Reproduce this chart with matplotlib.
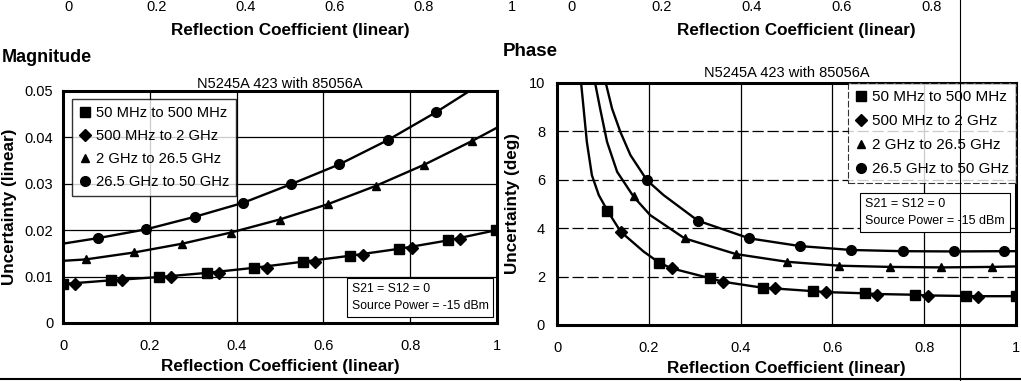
import matplotlib
matplotlib.use("Agg")
import matplotlib.pyplot as plt
from matplotlib.lines import Line2D

plt.rcParams['font.family'] = ['Liberation Sans', 'DejaVu Sans']

series_names = ['50 MHz to 500 MHz', '500 MHz to 2 GHz', '2 GHz to 26.5 GHz', '26.5 GHz to 50 GHz']
series_markers = ['s', 'D', '^', 'o']
x_ticks = [0, 0.2, 0.4, 0.6, 0.8, 1]
x_tick_labels = ['0', '0.2', '0.4', '0.6', '0.8', '1']

# magnitude (linear) - markers
mag_sq_x = [0.0, 0.111, 0.221, 0.331, 0.441, 0.552, 0.662, 0.775, 0.887, 0.998]
mag_sq_y = [0.0084, 0.0092, 0.0099, 0.0108, 0.0119, 0.0132, 0.0145, 0.0160, 0.0178, 0.0200]
mag_di_x = [0.027, 0.137, 0.248, 0.359, 0.469, 0.581, 0.692, 0.805, 0.915]
mag_di_y = [0.0085, 0.0092, 0.0099, 0.0108, 0.0119, 0.0132, 0.0147, 0.0162, 0.0182]
mag_tr_x = [0.052, 0.164, 0.275, 0.387, 0.499, 0.610, 0.722, 0.832, 0.942]
mag_tr_y = [0.0137, 0.0152, 0.0171, 0.0195, 0.0223, 0.0256, 0.0296, 0.0341, 0.0392]
mag_ci_x = [0.081, 0.192, 0.304, 0.415, 0.525, 0.637, 0.748, 0.859]
mag_ci_y = [0.0183, 0.0202, 0.0229, 0.0259, 0.0299, 0.0342, 0.0394, 0.0454]
# curve ends (no marker)
mag_tr_line_x = [0.0] + mag_tr_x + [1.0]
mag_tr_line_y = [0.0134] + mag_tr_y + [0.0421]
mag_ci_line_x = [0.0] + mag_ci_x + [0.95]
mag_ci_line_y = [0.0171] + mag_ci_y + [0.0508]
mag_yticks = [0, 0.01, 0.02, 0.03, 0.04, 0.05]
mag_ytick_labels = ['0', '0.01', '0.02', '0.03', '0.04', '0.05']

# phase (deg)
ph_sq_x = [0.110, 0.223, 0.334, 0.448, 0.557, 0.670, 0.780, 0.891, 1.0]
ph_sq_y = [4.72, 2.57, 1.93, 1.54, 1.40, 1.31, 1.25, 1.20, 1.20]
ph_di_x = [0.139, 0.250, 0.361, 0.474, 0.586, 0.697, 0.809, 0.918]
ph_di_y = [3.85, 2.34, 1.79, 1.51, 1.35, 1.24, 1.21, 1.17]
ph_tr_x = [0.167, 0.278, 0.390, 0.502, 0.615, 0.726, 0.837, 0.947]
ph_tr_y = [5.32, 3.58, 2.93, 2.61, 2.45, 2.38, 2.38, 2.38]
ph_ci_x = [0.196, 0.307, 0.419, 0.530, 0.641, 0.753, 0.864, 0.974]
ph_ci_y = [5.98, 4.31, 3.58, 3.26, 3.10, 3.04, 3.04, 3.07]
ph_low_line_x = [0.052, 0.058, 0.065, 0.076, 0.091, 0.110, 0.139, 0.189, 0.223, 0.250, 0.334, 0.361,
                 0.448, 0.474, 0.557, 0.586, 0.670, 0.697, 0.780, 0.809, 0.891, 0.918, 1.0]
ph_low_line_y = [10.1, 8.94, 7.57, 6.19, 5.37, 4.72, 3.85, 3.03, 2.57, 2.34, 1.93, 1.79,
                 1.54, 1.51, 1.40, 1.36, 1.31, 1.28, 1.25, 1.22, 1.20, 1.19, 1.19]
ph_tr_line_x = [0.082, 0.094, 0.109, 0.131, 0.167, 0.203, 0.278, 0.390, 0.502, 0.615, 0.726, 0.837, 0.947, 1.0]
ph_tr_line_y = [10.1, 8.94, 7.57, 6.33, 5.30, 4.54, 3.58, 2.93, 2.61, 2.45, 2.40, 2.38, 2.40, 2.42]
ph_ci_line_x = [0.105, 0.120, 0.138, 0.160, 0.196, 0.232, 0.307, 0.419, 0.530, 0.641, 0.753, 0.864, 0.974, 1.0]
ph_ci_line_y = [10.1, 8.94, 7.98, 7.02, 5.98, 5.37, 4.31, 3.58, 3.26, 3.10, 3.05, 3.04, 3.05, 3.05]
ph_yticks = [0, 2, 4, 6, 8, 10]
ph_ytick_labels = ['0', '2', '4', '6', '8', '10']

fig = plt.figure(figsize=(10.21, 3.81), dpi=100)

# cropped bottom of the chart above
for pos, ticks in [([68/1021, 0.999, 444/1021, 0.001], x_ticks),
                   ([571/1021, 0.999, 451/1021, 0.001], x_ticks[:-1])]:
    axt = fig.add_axes(pos)
    axt.set_xlim(0, 1)
    axt.set_xticks(ticks)
    axt.set_xticklabels(x_tick_labels[:len(ticks)], fontsize=10.5)
    axt.set_yticks([])
    axt.tick_params(length=0, pad=0)
    for s in axt.spines.values():
        s.set_visible(False)
    axt.patch.set_visible(False)
    axt.set_xlabel('Reflection Coefficient (linear)', fontsize=12.3, fontweight='bold', labelpad=6)


def style_axes(ax, yticks, ylabels, ylabel, hgrid_dash, ypad, title_pad):
    ax.set_xlim(0, 1)
    ax.set_xticks(x_ticks)
    ax.set_xticklabels(x_tick_labels, fontsize=10.5)
    ax.set_yticks(yticks)
    ax.set_yticklabels(ylabels, fontsize=10.5)
    ax.set_ylim(yticks[0], yticks[-1])
    ax.tick_params(length=0)
    ax.tick_params(axis='x', pad=11.5)
    ax.tick_params(axis='y', pad=ypad)
    for x in x_ticks[1:-1]:
        ax.axvline(x, color='black', lw=0.9, zorder=1)
    for y in yticks[1:-1]:
        ax.axhline(y, color='black', lw=0.9, zorder=1, linestyle=hgrid_dash)
    for s in ax.spines.values():
        s.set_linewidth(2.2)
    ax.set_xlabel('Reflection Coefficient (linear)', fontsize=12.3, fontweight='bold', labelpad=4)
    ax.set_ylabel(ylabel, fontsize=12.3, fontweight='bold')
    ax.set_title('N5245A 423 with 85056A', fontsize=10.5, pad=title_pad)


def legend_handles():
    sizes = [7, 6.5, 6, 7]
    return [Line2D([], [], color='black', marker=m, linestyle='none', markersize=s)
            for m, s in zip(series_markers, sizes)]


lw = 1.7

# Magnitude
ax1 = fig.add_axes([63/1021, 1 - 323/381, 434/1021, 232/381])
style_axes(ax1, mag_yticks, mag_ytick_labels, 'Uncertainty (linear)', '-', 7, 2)
ax1.yaxis.set_label_coords(-0.106, 0.5)
ax1.plot(mag_sq_x, mag_sq_y, color='black', lw=lw, marker='s', markersize=7, zorder=3)
ax1.plot(mag_di_x, mag_di_y, color='black', lw=lw, marker='D', markersize=6.5, linestyle='none', zorder=3)
ax1.plot(mag_tr_line_x, mag_tr_line_y, color='black', lw=lw, zorder=3)
ax1.plot(mag_tr_x, mag_tr_y, color='black', marker='^', markersize=6, linestyle='none', zorder=3)
ax1.plot(mag_ci_line_x, mag_ci_line_y, color='black', lw=lw, zorder=3)
ax1.plot(mag_ci_x, mag_ci_y, color='black', marker='o', markersize=7, linestyle='none', zorder=3)
leg1 = ax1.legend(legend_handles(), series_names, loc='upper left', bbox_to_anchor=(0.021, 0.966),
                  fontsize=10.6, frameon=True, fancybox=False, handlelength=0.8, handletextpad=0.3,
                  labelspacing=0.6, borderpad=0.5, borderaxespad=0)
leg1.get_frame().set_edgecolor('black')
leg1.get_frame().set_linewidth(1.0)
ax1.text(0.665, 0.172, 'S21 = S12 = 0\nSource Power = -15 dBm', transform=ax1.transAxes,
         fontsize=8.8, va='top', ha='left', linespacing=1.55,
         bbox=dict(boxstyle='square,pad=0.4', facecolor='white', edgecolor='black', lw=0.8), zorder=5)
fig.text(2/1021, 1 - 58/381, 'Magnitude', fontsize=13, fontweight='bold', va='center', ha='left')

# Phase
ax2 = fig.add_axes([557/1021, 1 - 325/381, 459/1021, 242/381])
style_axes(ax2, ph_yticks, ph_ytick_labels, 'Uncertainty (deg)', (0, (9, 3)), 8.6, 4)
ax2.yaxis.set_label_coords(-0.081, 0.5)
ax2.plot(ph_low_line_x, ph_low_line_y, color='black', lw=lw, zorder=3)
ax2.plot(ph_sq_x, ph_sq_y, color='black', marker='s', markersize=7, linestyle='none', zorder=3)
ax2.plot(ph_di_x, ph_di_y, color='black', marker='D', markersize=6.5, linestyle='none', zorder=3)
ax2.plot(ph_tr_line_x, ph_tr_line_y, color='black', lw=lw, zorder=3)
ax2.plot(ph_tr_x, ph_tr_y, color='black', marker='^', markersize=6, linestyle='none', zorder=3)
ax2.plot(ph_ci_line_x, ph_ci_line_y, color='black', lw=lw, zorder=3)
ax2.plot(ph_ci_x, ph_ci_y, color='black', marker='o', markersize=7, linestyle='none', zorder=3)
leg2 = ax2.legend(legend_handles(), series_names, loc='upper right', bbox_to_anchor=(1.0, 1.0),
                  fontsize=11, frameon=True, fancybox=False, handlelength=0.8, handletextpad=0.3,
                  labelspacing=0.66, borderpad=0.45, borderaxespad=0)
leg2.get_frame().set_edgecolor('black')
leg2.get_frame().set_linewidth(0.8)
leg2.get_frame().set_linestyle((0, (6, 2)))
ax2.text(0.672, 0.525, 'S21 = S12 = 0\nSource Power = -15 dBm', transform=ax2.transAxes,
         fontsize=9, va='top', ha='left', linespacing=1.55,
         bbox=dict(boxstyle='square,pad=0.4', facecolor='white', edgecolor='black', lw=0.8), zorder=5)
fig.text(503/1021, 1 - 51/381, 'Phase', fontsize=13.5, fontweight='bold', va='center', ha='left')

# scan artifacts: page fold and bottom rule
fig.add_artist(Line2D([960/1021, 960/1021], [0, 1], transform=fig.transFigure, color='black', lw=0.8))
fig.add_artist(Line2D([0, 1], [2/381, 2/381], transform=fig.transFigure, color='black', lw=1.5))

fig.savefig('out.png', dpi=100)
